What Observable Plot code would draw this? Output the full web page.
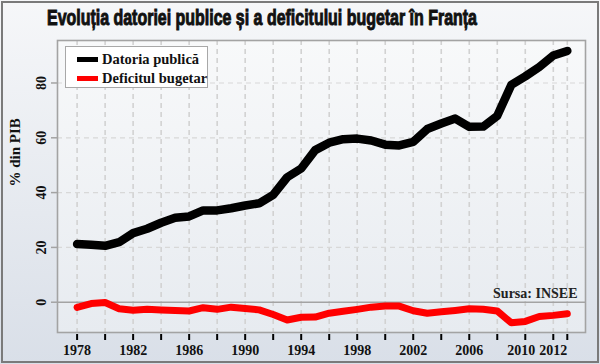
<!DOCTYPE html>
<html>
<head>
<meta charset="utf-8">
<script src="https://cdn.jsdelivr.net/npm/d3@7"></script>
<script src="https://cdn.jsdelivr.net/npm/@observablehq/plot@0.6"></script>
<style>
  html, body { margin: 0; padding: 0; background: #fff; }
  #wrap {
    position: relative; width: 600px; height: 364px; overflow: hidden;
    background: linear-gradient(#f6f7f9, #d9dfe8);
  }
  #border { position: absolute; left: 1px; top: 1px; width: 594px; height: 358px; border: 2px solid #7a7a7a; pointer-events: none; }
  #title {
    position: absolute; left: 47px; top: 5px; white-space: nowrap;
    font-family: "Liberation Sans Narrow", "Liberation Sans", "DejaVu Sans", sans-serif;
    font-weight: bold; font-size: 22px; line-height: 26px; color: #111;
    -webkit-text-stroke: 1px #111; transform-origin: 0 0;
  }
  #legend {
    position: absolute; left: 65px; top: 46px; width: 141px; height: 40px;
    background: #fff; border: 1.5px solid #a8a8a8;
    font-family: "Liberation Serif", serif; font-weight: bold; font-size: 14.5px; color: #111;
  }
  .item { position: absolute; left: 11px; height: 18px; line-height: 18px; white-space: nowrap; }
  .sw { display: inline-block; width: 21px; height: 5px; vertical-align: middle; margin-right: 4px; position: relative; top: -1px; }
</style>
</head>
<body>
<div id="wrap"></div>
<script>
const years = [1978,1979,1980,1981,1982,1983,1984,1985,1986,1987,1988,1989,1990,1991,1992,1993,1994,1995,1996,1997,1998,1999,2000,2001,2002,2003,2004,2005,2006,2007,2008,2009,2010,2011,2012,2013];
const datoria = [21.2,21.0,20.6,21.9,25.2,26.8,29.0,30.8,31.3,33.5,33.5,34.3,35.3,36.1,39.2,45.6,48.8,55.5,58.2,59.5,59.7,59.0,57.5,57.2,58.5,63.2,65.2,67.0,64.0,64.1,68.0,79.3,82.4,85.8,90.0,91.7];
const deficitul = [-1.9,-0.5,-0.1,-2.4,-2.9,-2.6,-2.8,-3.0,-3.2,-2.0,-2.6,-1.8,-2.3,-2.8,-4.5,-6.5,-5.5,-5.4,-4.0,-3.3,-2.6,-1.8,-1.4,-1.4,-3.1,-4.0,-3.5,-3.0,-2.4,-2.6,-3.2,-7.5,-7.0,-5.2,-4.8,-4.2];
const xTicks = [1978,1980,1982,1984,1986,1988,1990,1992,1994,1996,1998,2000,2002,2004,2006,2008,2010,2012,2013];
const xLabels = [1978,1982,1986,1990,1994,1998,2002,2006];
const xLabelsEnd = [2010,2012];
const yTicks = [0,20,40,60,80];
const seriesNames = ["Datoria publică", "Deficitul bugetar"];
const seriesColors = ["#000000", "#ff0000"];
const titleText = "Evoluția datoriei publice și a deficitului bugetar în Franța";
const yLabel = "% din PIB";
const sourceText = "Sursa: INSEE";

const debtData = years.map((y, i) => ({year: y, value: datoria[i]}));
const defData = years.map((y, i) => ({year: y, value: deficitul[i]}));
const serif = "'Liberation Serif', 'DejaVu Serif', serif";
const labelStyle = {fontSize: 14, fontFamily: serif, fontWeight: "bold", label: null, fill: "#111"};

const chart = Plot.plot({
  width: 600, height: 364,
  marginLeft: 57, marginRight: 15, marginTop: 40, marginBottom: 32,
  style: {background: "transparent", fontFamily: serif, fontWeight: "bold", color: "#111", overflow: "visible"},
  x: {domain: [1976.6, 2014.3]},
  y: {domain: [-11.05, 95.5]},
  marks: [
    Plot.frame({fill: "url(#plotBg)", stroke: "none"}),
    Plot.ruleX(xTicks, {stroke: "#d2d2d2", strokeWidth: 1.6, strokeDasharray: "5,4"}),
    Plot.ruleY(yTicks.filter(d => d !== 0), {stroke: "#d8d8d8", strokeWidth: 1.2, strokeDasharray: "5,4"}),
    Plot.ruleY([0], {stroke: "#a3a3a3", strokeWidth: 1.6}),
    Plot.frame({stroke: "#a3a3a3", strokeWidth: 1.6}),
    Plot.lineY(debtData, {x: "year", y: "value", stroke: seriesColors[0], strokeWidth: 8.5, strokeLinejoin: "round", strokeLinecap: "round"}),
    Plot.lineY(defData, {x: "year", y: "value", stroke: seriesColors[1], strokeWidth: 7, strokeLinejoin: "round", strokeLinecap: "round"}),
    Plot.axisX(xTicks, {
      tickSize: 6, dy: 2, tickPadding: 5, stroke: "#000", strokeWidth: 2,
      tickFormat: d => xLabels.includes(d) ? String(d) : "",
      ...labelStyle
    }),
    Plot.axisX([xLabelsEnd[0]], {tickSize: 0, dy: 2, dx: -4, tickPadding: 11, tickFormat: d => String(d), ...labelStyle}),
    Plot.axisX([xLabelsEnd[1]], {tickSize: 0, dy: 2, dx: 0, tickPadding: 11, tickFormat: d => String(d), ...labelStyle}),
    Plot.axisY(yTicks, {
      tickSize: 6, tickPadding: 6, tickRotate: -90, stroke: "#a3a3a3", strokeWidth: 1.5,
      ...labelStyle
    }),
    Plot.text([yLabel], {frameAnchor: "left", dx: -42, rotate: -90, fontSize: 15, fontFamily: serif, fontWeight: "bold", fill: "#111"}),
    Plot.text([sourceText], {frameAnchor: "bottom-right", dx: -8, dy: -35, textAnchor: "end", fontSize: 14, fontFamily: serif, fontWeight: "bold", fill: "#222"})
  ]
});

// gradient for plot area background
const defs = d3.select(chart).insert("defs", ":first-child");
const g = defs.append("linearGradient").attr("id", "plotBg").attr("x1", 0).attr("y1", 0).attr("x2", 0).attr("y2", 1);
g.append("stop").attr("offset", "0%").attr("stop-color", "#f8f9fa");
g.append("stop").attr("offset", "100%").attr("stop-color", "#e7ebf0");

const wrap = document.getElementById("wrap");
chart.style.position = "absolute"; chart.style.left = "0"; chart.style.top = "0";
wrap.appendChild(chart);

// title (HTML, horizontally fitted to the reference width)
const title = document.createElement("div");
title.id = "title";
title.textContent = titleText;
wrap.appendChild(title);
const natural = title.getBoundingClientRect().width;
title.style.transform = `scaleX(${430 / natural})`;

// legend
const leg = document.createElement("div");
leg.id = "legend";
seriesNames.forEach((name, i) => {
  const it = document.createElement("div");
  it.className = "item";
  it.style.top = (3 + i * 19) + "px";
  const sw = document.createElement("span");
  sw.className = "sw"; sw.style.background = seriesColors[i];
  it.appendChild(sw);
  it.appendChild(document.createTextNode(name));
  leg.appendChild(it);
});
wrap.appendChild(leg);

const border = document.createElement("div");
border.id = "border";
wrap.appendChild(border);
</script>
</body>
</html>
